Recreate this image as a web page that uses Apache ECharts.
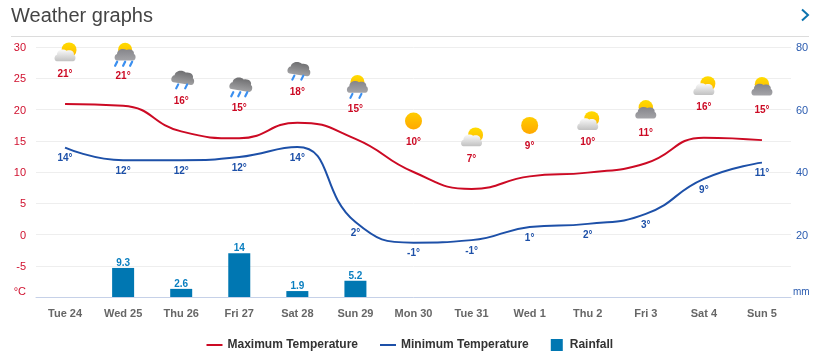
<!DOCTYPE html>
<html><head><meta charset="utf-8">
<style>html,body{margin:0;padding:0;background:#fff}#c{width:828px;height:363px}</style>
<script src="https://cdn.jsdelivr.net/npm/echarts@6/dist/echarts.min.js"></script>
</head><body><div id="c"></div>
<script>
const categories = ['Tue 24','Wed 25','Thu 26','Fri 27','Sat 28','Sun 29','Mon 30','Tue 31','Wed 1','Thu 2','Fri 3','Sat 4','Sun 5'];
const maxTemp = [20.9,20.6,16.5,15.4,17.9,15.3,10,7.3,9.3,9.9,11.4,15.5,15.1];
const minTemp = [13.9,11.9,11.9,12.4,14,2,-1.3,-0.9,1.2,1.7,3.3,8.9,11.5];
const rainfall = [null,9.3,2.6,14,1.9,5.2,null,null,null,null,null,null,null];
const maxLabels = [21,21,16,15,18,15,10,7,9,10,11,16,15];
const minLabels = [14,12,12,12,14,2,-1,-1,1,2,3,9,11];
const weather = ['partly','sunRain3','rain2','rain3','rain2','sunRain2','sun','partly','sun','partly','sunCloud','partly','sunCloud'];
const tempTicks = {min:-10,max:30,interval:5};
const rainTicks = {min:0,max:80,interval:20};

const RED='#cc0a24', BLUE='#1d50a8', BAR='#0077b2';
const cloudPath='M-10 6C-14 6-14-1-10-2C-10-8-2-10 2-7C7-9 12-6 11-2C14-1 14 6 10 6Z';
function grad(a,b){return {type:'linear',x:0,y:0,x2:0,y2:1,colorStops:[{offset:0,color:a},{offset:1,color:b}]};}
function sun(x,y,r,a,b){return {type:'circle',shape:{cx:x,cy:y,r:r},style:{fill:grad(a||'#ffdc00',b||'#ffb800')}};}
function cloud(x,y,w,h,a,b,rot){return {type:'path',x:x,y:y,rotation:rot||0,
  shape:{pathData:cloudPath,x:-w/2,y:-h/2,width:w,height:h},style:{fill:grad(a,b)}};}
function drops(xs,y){return xs.map(x=>({type:'line',shape:{x1:x+1,y1:y,x2:x-1,y2:y+4},style:{stroke:'#3a8ff0',lineWidth:2.2,lineCap:'round'}}));}
function icon(kind){
  const wh=['#fafafa','#c2c2c2'], dk=['#6e6e70','#a0a0a2'], gr=['#85858a','#a4a4a8'];
  switch(kind){
    case 'sun': return [sun(0,0,8.5,'#ffcc00','#ffa800')];
    case 'partly': return [sun(4,-3,7.5),cloud(0,2.5,21,12,wh[0],wh[1])];
    case 'sunCloud': return [sun(0,-5,7.2),cloud(0,0.5,21,12,gr[0],gr[1])];
    case 'sunRain3': return [sun(2,-5,7),cloud(2,0,21,13,gr[0],gr[1])].concat(drops([-7,1,8],7));
    case 'sunRain2': return [sun(2,-6,7),cloud(2,-1,21,13,gr[0],gr[1])].concat(drops([-4,5],6));
    case 'rain2': return [cloud(2,-3,23,14,dk[0],dk[1],-0.16)].concat(drops([-4,5],4));
    case 'rain3': return [cloud(2,-3,23,14,dk[0],dk[1],-0.16)].concat(drops([-7,0,7],5));
  }
  return [];
}
const iconData = maxTemp.map((v,i)=>[i,v,weather[i]]);

const chart = echarts.init(document.getElementById('c'),null,{renderer:'canvas'});
chart.setOption({
  animation:false,
  textStyle:{fontFamily:'"Liberation Sans",Arial,sans-serif'},
  title:{text:'Weather graphs',left:6,top:1,textStyle:{fontSize:20,fontWeight:'normal',color:'#444',fontFamily:'"Liberation Sans",Arial,sans-serif'}},
  graphic:[
    {type:'line',shape:{x1:11,y1:36.5,x2:809,y2:36.5},style:{stroke:'#dcdcdc',lineWidth:1}},
    {type:'polyline',shape:{points:[[802,9.5],[808,15],[802,20.5]]},style:{stroke:'#0b73ae',lineWidth:2,fill:null}}
  ],
  grid:{left:36,right:37,top:47,bottom:66},
  legend:{left:201.5,top:334,itemWidth:16,itemHeight:12,itemGap:22,
    textStyle:{fontSize:12,fontWeight:'bold',color:'#333',padding:[1,0,0,0]},
    data:[{name:'Maximum Temperature',icon:'path://M0 0h16v2H0z'},
      {name:'Minimum Temperature',icon:'path://M0 0h16v2H0z'},
      {name:'Rainfall',icon:'path://M0 0h10v10H0z'}]},
  xAxis:{type:'category',data:categories,
    axisLine:{onZero:false,lineStyle:{color:'#c6d1e8',width:1}},
    axisTick:{alignWithLabel:true,length:9,lineStyle:{color:'#c6d1e8'}},
    axisLabel:{fontSize:11,fontWeight:'bold',color:'#666',margin:11}},
  yAxis:[
    {type:'value',min:tempTicks.min,max:tempTicks.max,interval:tempTicks.interval,
     axisLine:{show:false},axisTick:{show:false},
     splitLine:{lineStyle:{color:'#eeeeee',width:1}},
     axisLabel:{fontSize:11,color:'#d0102e',margin:10,
       formatter:v=>v===tempTicks.min?'{u|°C}':'{n|'+v+'}',
       rich:{u:{fontSize:11,color:'#d0102e',padding:[0,0,10,0]},n:{fontSize:11,color:'#d0102e',padding:[2,0,0,0]}}}},
    {type:'value',min:rainTicks.min,max:rainTicks.max,interval:rainTicks.interval,
     axisLine:{show:false},axisTick:{show:false},splitLine:{show:false},
     axisLabel:{fontSize:11,color:'#2b5cb0',margin:2,
       formatter:v=>v===rainTicks.min?'{u|mm}':'{n|'+v+'}',
       rich:{u:{fontSize:10,color:'#2b5cb0',padding:[0,0,10,0]},n:{fontSize:11,color:'#2b5cb0',padding:[2,0,0,3]}}}}
  ],
  series:[
    {name:'Maximum Temperature',type:'line',data:maxTemp,yAxisIndex:0,smooth:0.5,symbol:'circle',symbolSize:0,showSymbol:true,showAllSymbol:true,
     lineStyle:{color:RED,width:2},itemStyle:{color:RED},
     label:{show:true,position:'top',distance:25,fontSize:10,fontWeight:'bold',color:RED,
       formatter:p=>maxLabels[p.dataIndex]+'°'},z:3},
    {name:'Minimum Temperature',type:'line',data:minTemp,yAxisIndex:0,smooth:0.5,symbol:'circle',symbolSize:0,showSymbol:true,showAllSymbol:true,
     lineStyle:{color:BLUE,width:2},itemStyle:{color:BLUE},
     label:{show:true,position:'bottom',distance:6,fontSize:10,fontWeight:'bold',color:BLUE,
       formatter:p=>minLabels[p.dataIndex]+'°'},z:3},
    {name:'Rainfall',type:'bar',data:rainfall,yAxisIndex:1,barWidth:22,itemStyle:{color:BAR},
     label:{show:true,position:'top',distance:0,fontSize:10,fontWeight:'bold',color:'#0a7fc0'},z:2},
    {name:'Icons',type:'custom',data:iconData,yAxisIndex:0,silent:true,z:4,
     encode:{x:0,y:1},
     renderItem:(params,api)=>{
       const p=api.coord([api.value(0),api.value(1)]);
       return {type:'group',x:p[0],y:p[1]-51,children:icon(weather[params.dataIndex])};
     }}
  ]
});
</script></body></html>
